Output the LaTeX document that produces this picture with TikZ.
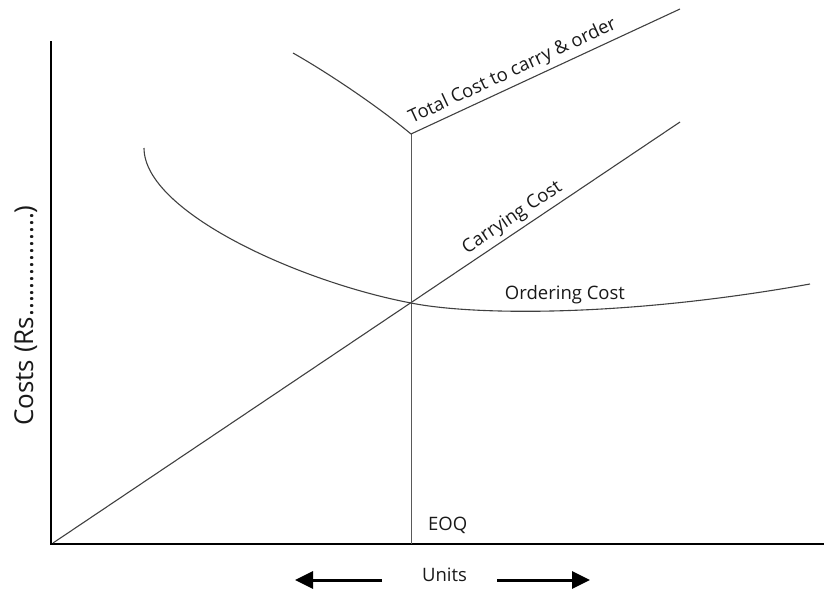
\documentclass[tikz,border=0pt]{standalone}
\usepackage{fontspec}
\setmainfont{Open Sans}
\usetikzlibrary{arrows.meta}
\begin{document}
\begin{tikzpicture}[x=1pt,y=-1pt,
  axisline/.style={line width=2.6pt,black},
  curve/.style={line width=1.1pt,black!75},
  eoqline/.style={line width=0.8pt,black!65},
  lbl/.style={font=\fontsize{18.5}{22}\selectfont,text=black!90,inner sep=0pt},
  unitarrow/.style={line width=3pt,-{Triangle[length=18pt,width=17pt]}}]
\useasboundingbox (0,0) rectangle (824,592);
% axes
\coordinate (ytop) at (51,41);
\coordinate (orig) at (51,544);
\coordinate (xend) at (824,544);
\draw[axisline] (ytop) -- (orig) -- (xend);
% carrying cost line
\coordinate (c0) at (53,543);
\coordinate (c1) at (680,122);
\draw[curve] (c0) -- (c1) node[pos=0.745,sloped,above=4pt,lbl] (carry) {Carrying Cost};
% EOQ vertical
\coordinate (eoqtop) at (411,134);
\coordinate (eoqbot) at (411,544);
\draw[eoqline] (eoqtop) -- (eoqbot);
% total cost
\coordinate (t0) at (293,53);
\coordinate (t1) at (680,9);
\draw[curve] (t0) .. controls (330,74) and (380,108) .. (eoqtop);
\draw[curve] (eoqtop) -- (t1) node[pos=0.40,sloped,above=4pt,lbl] (total) {Total Cost to carry \& order};
% ordering cost
\coordinate (o0) at (144,148);
\coordinate (ox) at (411,303);
\coordinate (o1) at (810,284);
\draw[curve] (o0) .. controls (144,212) and (300,282) .. (ox)
  .. controls (470,315) and (620,318) .. (o1);
\node[lbl,anchor=base] (ord) at (565,299) {Ordering Cost};
% labels
\node[lbl,anchor=base west] (eoq) at (428,530) {EOQ};
\node[lbl,anchor=base] (units) at (444.5,581) {Units};
\node[lbl,font=\fontsize{26}{30}\selectfont,rotate=90,anchor=base] (costs) at (33,315.5) {Costs (Rs...............)};
% unit arrows
\coordinate (la0) at (382,580);
\coordinate (la1) at (295,580);
\coordinate (ra0) at (497,580);
\coordinate (ra1) at (590,580);
\draw[unitarrow] (la0) -- (la1);
\draw[unitarrow] (ra0) -- (ra1);
\end{tikzpicture}
\end{document}
